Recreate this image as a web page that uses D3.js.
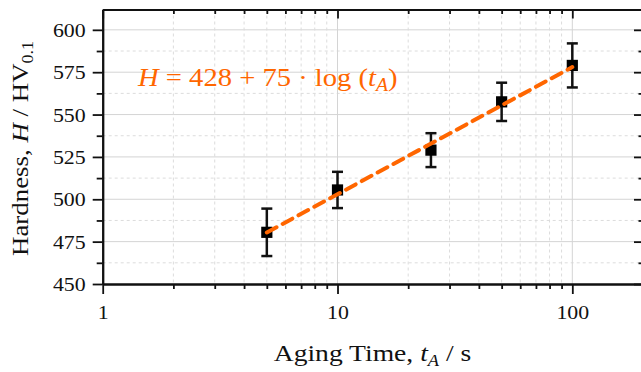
<!DOCTYPE html>
<meta charset="utf-8">
<style>
body { margin: 0; background: #fff; }
.axis path, .axis line { stroke: #111; }
.axis path { stroke-width: 2; }
.axis line { stroke-width: 1.8; }
</style>
<svg width="641" height="372"></svg>
<script src="https://cdn.jsdelivr.net/npm/d3@7"></script>
<script>

// aging time (s), hardness (HV0.1) and error bar half-widths
var times = [5, 10, 25, 50, 100],
    hardness = [480.5, 505.5, 529, 557.5, 579],
    errors = [14, 10.7, 10, 11.3, 13];

// fitted line end points
var fitTimes = [5, 100],
    fitHardness = [480.4, 578];

var xMajor = [1, 10, 100],
    xMinor = [2, 3, 4, 5, 6, 7, 8, 9, 20, 30, 40, 50, 60, 70, 80, 90, 200],
    yMajor = [450, 475, 500, 525, 550, 575, 600],
    yMinor = [462.5, 487.5, 512.5, 537.5, 562.5, 587.5];

var serif = "'Liberation Serif', 'Times New Roman', serif";

var svg = d3.select("svg"),
    margin = {top: 9.5, right: -2, bottom: 88, left: 102.7},
    width = +svg.attr("width") - margin.left - margin.right,
    height = +svg.attr("height") - margin.top - margin.bottom,
    sx = 1.15; // glyphs in the picture are wider than Times

var x = d3.scaleLog().domain([1, 200]).range([0, width]);
var y = d3.scaleLinear().domain([450, 612]).range([height, 0]);

var g = svg.append("g")
    .attr("transform", "translate(" + margin.left + "," + margin.top + ")");

// grid
g.selectAll(".gy").data(yMajor.slice(1)).enter().append("line")
    .attr("x1", 0).attr("x2", width)
    .attr("y1", y).attr("y2", y)
    .attr("stroke", "#d4d4d4").attr("stroke-width", 1);
g.selectAll(".gym").data(yMinor).enter().append("line")
    .attr("x1", 0).attr("x2", width)
    .attr("y1", y).attr("y2", y)
    .attr("stroke", "#dcdcdc").attr("stroke-width", 1)
    .attr("stroke-dasharray", "3,3");
g.selectAll(".gx").data(xMajor.slice(1)).enter().append("line")
    .attr("y1", 0).attr("y2", height)
    .attr("x1", x).attr("x2", x)
    .attr("stroke", "#d4d4d4").attr("stroke-width", 1);
g.selectAll(".gxm").data(xMinor.slice(0, -1)).enter().append("line")
    .attr("y1", 0).attr("y2", height)
    .attr("x1", x).attr("x2", x)
    .attr("stroke", "#dcdcdc").attr("stroke-width", 1)
    .attr("stroke-dasharray", "3,3");

// axes
g.append("g").attr("class", "axis")
    .attr("transform", "translate(0," + height + ")")
    .call(d3.axisBottom(x).tickValues(xMinor).tickSize(5).tickSizeOuter(0).tickFormat(""));
var xa = g.append("g").attr("class", "axis")
    .attr("transform", "translate(0," + height + ")")
    .call(d3.axisBottom(x).tickValues(xMajor).tickSize(10).tickSizeOuter(0).tickFormat(d3.format("d")));
xa.selectAll("text")
    .attr("y", 0).attr("dy", 0)
    .attr("transform", "translate(0,35) scale(" + sx + ",1)")
    .style("font-family", serif)
    .style("font-size", "19px")
    .style("fill", "#111");

g.append("g").attr("class", "axis")
    .call(d3.axisLeft(y).tickValues(yMinor).tickSize(6).tickSizeOuter(0).tickFormat(""));
var ya = g.append("g").attr("class", "axis")
    .call(d3.axisLeft(y).tickValues(yMajor).tickSize(10).tickSizeOuter(0));
ya.selectAll("text")
    .attr("x", 0).attr("dy", "0.34em")
    .attr("transform", "translate(-17,0) scale(" + sx + ",1)")
    .style("font-family", serif)
    .style("font-size", "19px")
    .style("fill", "#111");

g.append("g").attr("class", "axis")
    .call(d3.axisTop(x).tickValues(xMinor).tickSize(-4.5).tickSizeOuter(0).tickFormat(""));
g.append("g").attr("class", "axis")
    .call(d3.axisTop(x).tickValues(xMajor).tickSize(-9).tickSizeOuter(0).tickFormat(""));
g.append("g").attr("class", "axis")
    .attr("transform", "translate(" + width + ",0)")
    .call(d3.axisRight(y).tickValues(yMinor).tickSize(-4.5).tickSizeOuter(0).tickFormat(""));
g.append("g").attr("class", "axis")
    .attr("transform", "translate(" + width + ",0)")
    .call(d3.axisRight(y).tickValues(yMajor).tickSize(-9).tickSizeOuter(0).tickFormat(""));

// error bars and markers
var pts = times.map(function(t, i) { return {t: t, h: hardness[i], e: errors[i]}; });
var pg = g.selectAll(".pt").data(pts).enter().append("g");
pg.append("line")
    .attr("x1", function(d) { return x(d.t); }).attr("x2", function(d) { return x(d.t); })
    .attr("y1", function(d) { return y(d.h - d.e); }).attr("y2", function(d) { return y(d.h + d.e); })
    .attr("stroke", "#111").attr("stroke-width", 2.5);
[-1, 1].forEach(function(s) {
  pg.append("line")
      .attr("x1", function(d) { return x(d.t) - 5.5; }).attr("x2", function(d) { return x(d.t) + 5.5; })
      .attr("y1", function(d) { return y(d.h + s * d.e); }).attr("y2", function(d) { return y(d.h + s * d.e); })
      .attr("stroke", "#111").attr("stroke-width", 2.5);
});
pg.append("rect")
    .attr("x", function(d) { return x(d.t) - 5.6; })
    .attr("y", function(d) { return y(d.h) - 5.6; })
    .attr("width", 11.2).attr("height", 11.2)
    .attr("fill", "#000");

// fit
var line = d3.line()
    .x(function(d) { return x(d[0]); })
    .y(function(d) { return y(d[1]); });
g.append("path")
    .datum(d3.zip(fitTimes, fitHardness))
    .attr("fill", "none")
    .attr("stroke", "#ff6600")
    .attr("stroke-width", 4)
    .attr("stroke-dasharray", "11,7")
    .attr("stroke-linecap", "round")
    .attr("d", line);

// equation
var eq = svg.append("text")
    .attr("transform", "translate(138,86) scale(1.1,1)")
    .style("font-family", serif)
    .style("font-size", "26px")
    .style("fill", "#ff6600");
eq.append("tspan").style("font-style", "italic").text("H");
eq.append("tspan").text(" = 428 + 75 · log (");
eq.append("tspan").style("font-style", "italic").text("t");
eq.append("tspan").style("font-style", "italic").style("font-size", "18px").attr("dy", 5).text("A");
eq.append("tspan").attr("dy", -5).text(")");

// axis titles
var xt = svg.append("text")
    .attr("transform", "translate(372.5,361) scale(" + sx + ",1)")
    .attr("text-anchor", "middle")
    .style("font-family", serif)
    .style("font-size", "24px")
    .style("fill", "#111");
xt.append("tspan").text("Aging Time, ");
xt.append("tspan").style("font-style", "italic").text("t");
xt.append("tspan").style("font-style", "italic").style("font-size", "16px").attr("dy", 5).text("A");
xt.append("tspan").attr("dy", -5).text(" / s");

var yt = svg.append("text")
    .attr("transform", "translate(27.5,148.5) rotate(-90) scale(1.12,1)")
    .attr("text-anchor", "middle")
    .style("font-family", serif)
    .style("font-size", "24px")
    .style("fill", "#111");
yt.append("tspan").text("Hardness, ");
yt.append("tspan").style("font-style", "italic").text("H");
yt.append("tspan").text(" / HV");
yt.append("tspan").style("font-size", "16px").attr("dy", 5).text("0.1");

</script>
